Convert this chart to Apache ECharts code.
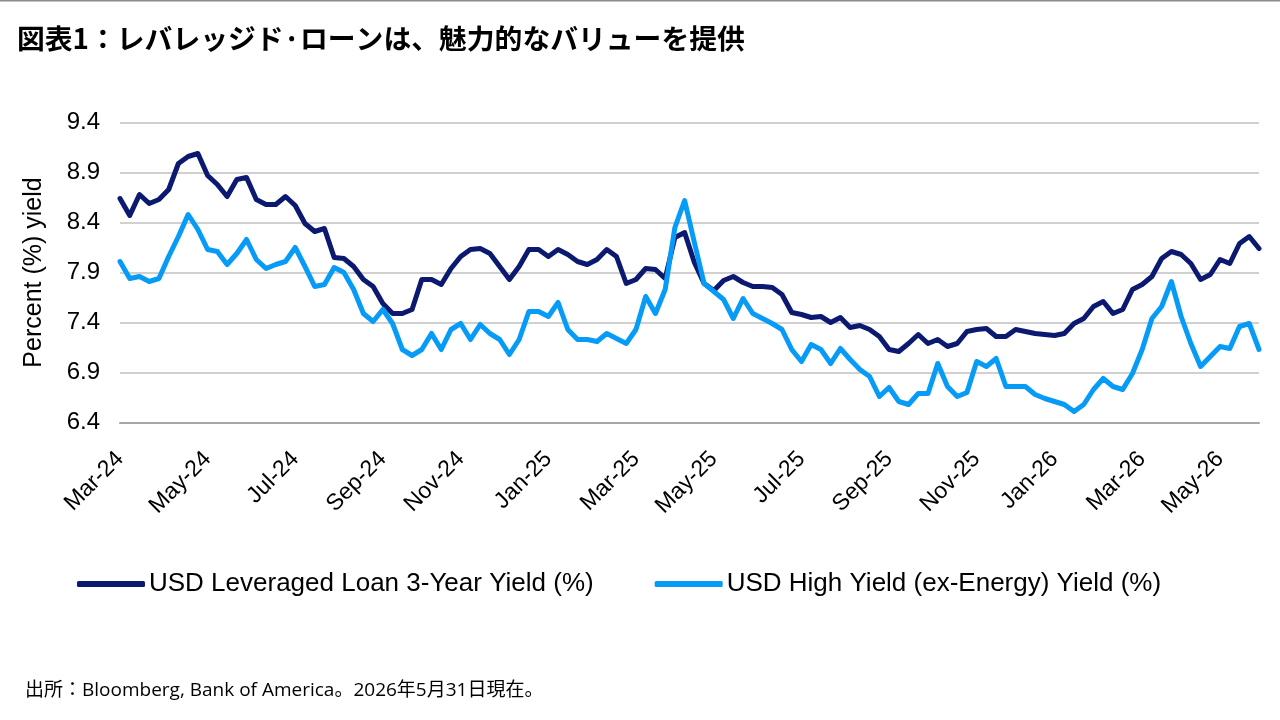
<!DOCTYPE html>
<html><head><meta charset="utf-8">
<script src="https://cdn.jsdelivr.net/npm/echarts@6/dist/echarts.min.js"></script>
<style>html,body{margin:0;padding:0;background:#fff}#c{width:1280px;height:720px}</style>
</head><body><div id="c"></div>
<script>
// Weekly observations starting 2024-03-01 (Fridays)
const startDate = '2024-03-01';
const weekCount = 118;
const monthNames = ['Jan','Feb','Mar','Apr','May','Jun','Jul','Aug','Sep','Oct','Nov','Dec'];
const tickLabels = ['Mar-24','May-24','Jul-24','Sep-24','Nov-24','Jan-25','Mar-25','May-25','Jul-25','Sep-25','Nov-25','Jan-26','Mar-26','May-26'];
const yTicks = [6.4, 6.9, 7.4, 7.9, 8.4, 8.9, 9.4];
const seriesNames = ['USD Leveraged Loan 3-Year Yield (%)', 'USD High Yield (ex-Energy) Yield (%)'];

const loanYield = [
 8.64,8.47,8.68,8.59,8.63,8.73,8.99,9.06,9.09,8.87,
 8.78,8.66,8.83,8.85,8.63,8.58,8.58,8.66,8.57,8.39,
 8.31,8.34,8.05,8.04,7.96,7.83,7.76,7.59,7.49,7.49,
 7.53,7.83,7.83,7.78,7.94,8.06,8.13,8.14,8.09,7.96,
 7.83,7.96,8.13,8.13,8.06,8.13,8.08,8.01,7.98,8.03,
 8.13,8.06,7.79,7.83,7.94,7.93,7.84,8.25,8.30,8.00,
 7.79,7.72,7.82,7.86,7.80,7.76,7.76,7.75,7.68,7.50,
 7.48,7.45,7.46,7.40,7.45,7.35,7.37,7.33,7.26,7.13,
 7.11,7.19,7.28,7.19,7.23,7.16,7.19,7.31,7.33,7.34,
 7.26,7.26,7.33,7.31,7.29,7.28,7.27,7.29,7.39,7.44,
 7.56,7.61,7.49,7.53,7.73,7.78,7.86,8.04,8.11,8.08,
 7.99,7.83,7.88,8.03,7.99,8.19,8.26,8.14
];
const hyYield = [
 8.01,7.84,7.86,7.81,7.84,8.06,8.26,8.48,8.33,8.13,
 8.11,7.98,8.09,8.23,8.03,7.94,7.98,8.01,8.15,7.96,
 7.76,7.78,7.95,7.90,7.73,7.49,7.41,7.53,7.39,7.13,
 7.07,7.13,7.29,7.13,7.33,7.39,7.23,7.38,7.29,7.23,
 7.08,7.23,7.51,7.51,7.46,7.60,7.33,7.23,7.23,7.21,
 7.29,7.24,7.19,7.33,7.66,7.49,7.73,8.35,8.62,8.20,
 7.79,7.71,7.63,7.44,7.64,7.49,7.44,7.39,7.33,7.13,
 7.01,7.18,7.13,6.99,7.14,7.03,6.93,6.86,6.66,6.75,
 6.61,6.58,6.69,6.69,6.99,6.76,6.66,6.70,7.01,6.96,
 7.04,6.76,6.76,6.76,6.68,6.64,6.61,6.58,6.51,6.58,
 6.73,6.84,6.76,6.73,6.89,7.13,7.44,7.56,7.81,7.46,
 7.19,6.96,7.06,7.16,7.14,7.36,7.39,7.13
];

// category dates
const categories = [];
const d0 = new Date(startDate + 'T00:00:00Z');
for (let i = 0; i < weekCount; i++) {
  const d = new Date(d0.getTime() + i * 7 * 86400000);
  categories.push(d.toISOString().slice(0, 10));
}
function monLabel(s) {
  const d = new Date(s + 'T00:00:00Z');
  return monthNames[d.getUTCMonth()] + '-' + String(d.getUTCFullYear()).slice(2);
}
function isTick(idx, s) {
  const d = new Date(s + 'T00:00:00Z');
  return d.getUTCDate() <= 7 && tickLabels.indexOf(monLabel(s)) >= 0;
}

// y axis shifted so ticks start on a multiple of the interval
const Y_SHIFT = yTicks[0] - 6.0;
const shift = arr => arr.map(v => +(v - Y_SHIFT).toFixed(4));

const chart = echarts.init(document.getElementById('c'), null, {renderer: 'canvas'});
const latin = 'Liberation Sans, Arial, sans-serif';
const cjk = '"Noto Sans CJK JP", sans-serif';
chart.setOption({
  animation: false,
  backgroundColor: '#fff',
  title: {
    text: '図表1：レバレッジド·ローンは、魅力的なバリューを提供',
    left: 12, top: 20,
    textStyle: {fontFamily: cjk, fontSize: 27.8, fontWeight: 'bold', color: '#000'}
  },
  graphic: [
    {type: 'rect', shape: {x: 0, y: 0, width: 1280, height: 1.5}, style: {fill: '#8c8c8c'}},
    {type: 'text', left: 25, top: 681, style: {text: '出所：Bloomberg, Bank of America。2026年5月31日現在。', font: '19px "Open Sans", "Noto Sans CJK JP", sans-serif', fill: '#000'}}
  ],
  legend: {
    left: 72, top: 566,
    itemWidth: 68, itemHeight: 6, itemGap: 61,
    icon: 'roundRect',
    textStyle: {fontFamily: latin, fontSize: 26, color: '#000', padding: [0, 0, 0, -1]},
    data: seriesNames
  },
  grid: {left: 120, right: 21, top: 122.5, bottom: 297.5, containLabel: false},
  xAxis: {
    type: 'category',
    data: categories,
    boundaryGap: false,
    axisLine: {show: true, lineStyle: {color: '#a6a6a6', width: 2}},
    axisTick: {show: false},
    splitLine: {show: false},
    axisLabel: {
      interval: isTick,
      formatter: s => monLabel(s),
      rotate: 45, margin: 33,
      fontFamily: latin, fontSize: 23, color: '#000'
    }
  },
  yAxis: {
    type: 'value',
    min: 6.0, max: 9.0, interval: 0.5,
    name: 'Percent (%) yield',
    nameLocation: 'middle', nameGap: 73, nameRotate: 90,
    nameTextStyle: {fontFamily: latin, fontSize: 25, color: '#000'},
    axisLine: {show: false},
    axisTick: {show: false},
    axisLabel: {formatter: v => (v + Y_SHIFT).toFixed(1), margin: 20, fontFamily: latin, fontSize: 24, color: '#000'},
    splitLine: {lineStyle: {color: '#d0d0d0', width: 2}}
  },
  series: [
    {name: seriesNames[0], type: 'line', data: shift(loanYield), showSymbol: false, symbol: 'none',
     lineStyle: {color: '#0B1A70', width: 5, join: 'round', cap: 'round'}, itemStyle: {color: '#0B1A70'}},
    {name: seriesNames[1], type: 'line', data: shift(hyYield), showSymbol: false, symbol: 'none',
     lineStyle: {color: '#069BF7', width: 5, join: 'round', cap: 'round'}, itemStyle: {color: '#069BF7'}}
  ]
});
</script>
</body></html>
